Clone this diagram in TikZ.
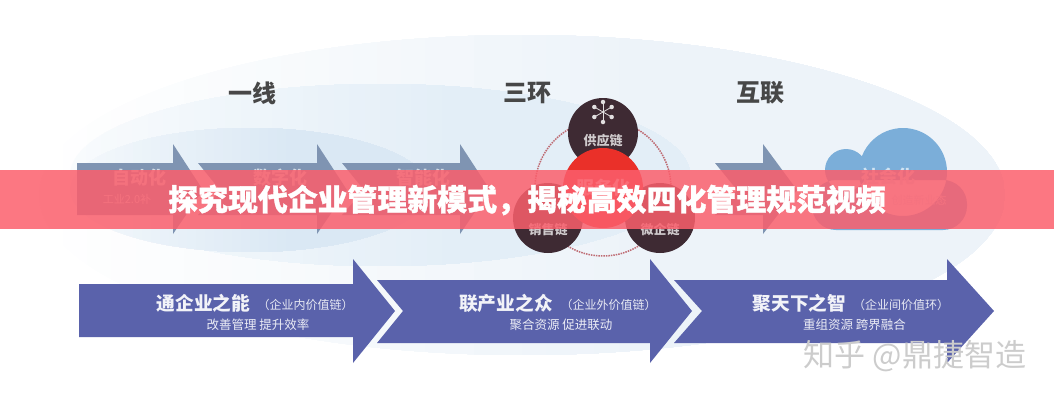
\documentclass[tikz,border=0pt]{standalone}
\usepackage{fontspec}
\setmainfont{Noto Sans CJK SC}
\newfontfamily\titlefont{Noto Sans CJK SC}[BoldFeatures={FakeBold=1.2}]
\definecolor{ChainBlue}{HTML}{5A62AB}
\definecolor{StepBlue}{HTML}{7F94B2}
\definecolor{CloudBlue}{HTML}{7BAED9}
\definecolor{RingDark}{HTML}{3E2A33}
\definecolor{RingRed}{HTML}{EA3029}
\definecolor{RingDot}{HTML}{BE6A72}
\definecolor{BandRed}{HTML}{FB5F6C}
\definecolor{OuterTint}{HTML}{EDF3F9}
\definecolor{MiddleTint}{HTML}{E3EEF7}
\definecolor{InnerTint}{HTML}{DAE8F4}
\newcommand{\fs}[1]{\fontsize{#1}{#1}\selectfont}
% fading ellipse: tint, centre x, centre y, x radius, y radius, tint at left end
\newcommand{\fadeellipse}[6]{
    \begin{scope}
        \clip (#2,#3) ellipse [x radius=#4,y radius=#5];
        \foreach \i in {0,...,24}{
            \pgfmathtruncatemacro{\p}{#6+(100-#6)*\i/24}
            \fill[#1!\p!white] (#2-#4+#4*\i/20,#3-#5) rectangle (#2+#4,#3+#5);
        }
    \end{scope}
}

\begin{document}
\begin{tikzpicture}[
        x=1pt,y=-1pt,
        %Environment styles
        HeadCfg/.style={font=\fs{24}\bfseries,text=black!72},
        StepArrow/.style={fill=StepBlue},
        ChainArrow/.style={fill=ChainBlue},
        StepCfg/.style={font=\fs{18}\bfseries,text=white!65!StepBlue},
        StepSub/.style={font=\fs{11},text=white!65!StepBlue},
        ChainCfg/.style={font=\fs{18.7}\bfseries,text=white!92!ChainBlue},
        ChainNote/.style={font=\fs{12},text=white!85!ChainBlue},
        ChainSub/.style={font=\fs{12.5},text=white!88!ChainBlue},
        RingCfg/.style={circle,fill=RingDark,minimum size=70pt,inner sep=0pt},
        RingText/.style={font=\fs{13}\bfseries,text=white!75!RingDark}
    ]
    \useasboundingbox (0,0) rectangle (1054,400);

    %Background ellipses
    \fadeellipse{OuterTint}{522}{195}{483}{160}{0}
    \fadeellipse{MiddleTint}{380}{175}{310}{91}{25}
    \fadeellipse{InnerTint}{250}{190}{180}{62}{30}

    \path
        (252,93) node[HeadCfg](LineHead){一线}
        (527,93) node[HeadCfg](RingHead){三环}
        (760,93) node[HeadCfg](LinkHead){互联};

    %Upper arrows
    \fill[StepArrow] (77,163) -- (173,163) -- (173,144) -- (203,190)
        -- (173,234) -- (173,215) -- (77,215) -- cycle;
    \fill[StepArrow] (198,163) -- (317,163) -- (317,144) -- (347,190)
        -- (317,234) -- (317,215) -- (198,215) -- (220,190) -- cycle;
    \fill[StepArrow] (342,163) -- (460,163) -- (460,144) -- (490,190)
        -- (460,234) -- (460,215) -- (342,215) -- (364,190) -- cycle;
    \fill[StepArrow] (715,163) -- (763,163) -- (763,144) -- (797,190)
        -- (763,234) -- (763,215) -- (715,215) -- (737,190) -- cycle;
    \path
        (139,178) node[StepCfg](AutoText){自动化}
        (127,199) node[StepSub](AutoSub){工业2.0补}
        (280,178) node[StepCfg](DigitText){数字化}
        (423,178) node[StepCfg](SmartText){智能化};

    %Rings
    \draw[RingDot,densely dotted,line width=1.5pt] (603,188) circle (68);
    \path
        (603,133) node[RingCfg](Supply){}
        (548,218) node[RingCfg](Sales){}
        (660,218) node[RingCfg](Micro){}
        (603,188) node[circle,fill=RingRed,minimum size=80pt,inner sep=0pt,
            font=\fs{18}\bfseries,text=white!70!RingRed](Service){服务化};
    \path
        (Supply.center) ++(0,8) node[RingText](SupplyText){供应链}
        (Sales.center) ++(0,12) node[RingText](SalesText){销售链}
        (Micro.center) ++(0,12) node[RingText](MicroText){微企链};

    %Network icon
    \coordinate (Hub) at (603,112);
    \foreach \a in {30,90,150,210,270,330}
        \draw[white!85!RingDark,line width=.8pt] (Hub) -- ++(\a:10)
            node[circle,fill=white!85!RingDark,inner sep=0pt,minimum size=4.5pt]{};

    %Cloud
    \fill[CloudBlue] (903,172) circle (44) (846,170) circle (21)
        (812,180) [rounded corners=24] rectangle (967,230);
    \path
        (888,177) node[StepCfg,text=white!65!CloudBlue](CloudText){社会化}
        (919,200) node[StepSub,text=white!65!CloudBlue](CloudSub){创造新业态};

    %Lower arrows
    \fill[ChainArrow] (79,284) -- (353,284) -- (353,259) -- (395,311)
        -- (353,363) -- (353,337) -- (79,337) -- cycle;
    \fill[ChainArrow] (377,280) -- (650,280) -- (650,259) -- (692,311)
        -- (650,363) -- (650,343) -- (377,343) -- (403,311) -- cycle;
    \fill[ChainArrow] (674,280) -- (947,280) -- (947,259) -- (994,311)
        -- (947,363) -- (947,343) -- (674,343) -- (702,311) -- cycle;
    \path
        (203.5,303) node[ChainCfg](ChainOne){通企业之能}
        (305.5,305) node[ChainNote](NoteOne){（企业内价值链）}
        (258,325) node[ChainSub](SubOne){改善管理 提升效率}
        (506,303) node[ChainCfg](ChainTwo){联产业之众}
        (608.5,305) node[ChainNote](NoteTwo){（企业外价值链）}
        (561,325) node[ChainSub](SubTwo){聚合资源 促进联动}
        (799.5,303) node[ChainCfg](ChainThree){聚天下之智}
        (901,305) node[ChainNote](NoteThree){（企业间价值环）}
        (854.5,325) node[ChainSub](SubThree){重组资源 跨界融合};

    \node[font=\fs{31},text=black!20] (Mark) at (915,356) {知乎 @鼎捷智造};

    %Title band
    \fill[BandRed,fill opacity=.85] (0,170) rectangle (1054,229);
    \node[font=\titlefont\fs{29.9}\bfseries,text=white] (Title) at (527,200)
        {探究现代企业管理新模式，揭秘高效四化管理规范视频};
\end{tikzpicture}
\end{document}
